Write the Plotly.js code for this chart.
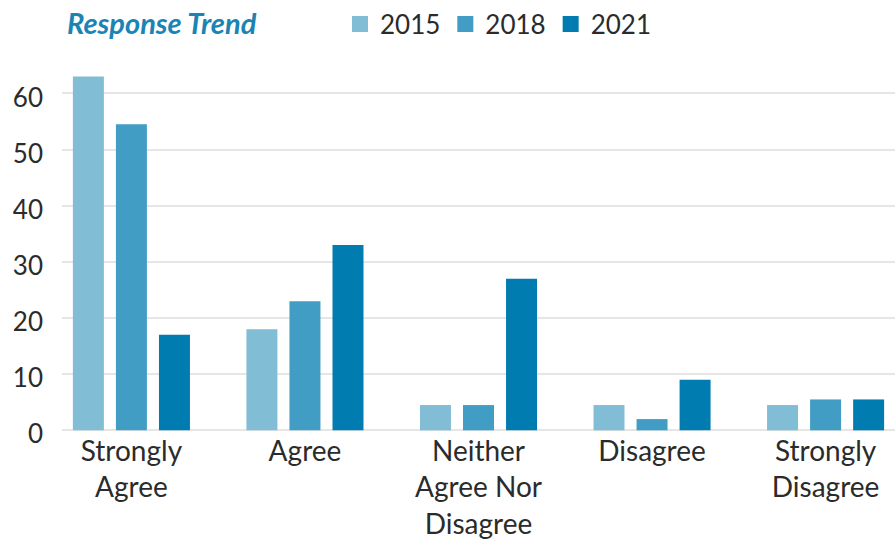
<!DOCTYPE html>
<html>
<head>
<meta charset="utf-8">
<script src="https://cdn.plot.ly/plotly-3.0.1.min.js"></script>
<style>html,body{margin:0;padding:0;background:#fff;}#chart{width:895px;height:539px;}</style>
</head>
<body>
<div id="chart"></div>
<script>
const categories = ["Strongly<br>Agree", "Agree", "Neither<br>Agree Nor<br>Disagree", "Disagree", "Strongly<br>Disagree"];
const seriesNames = ["2015", "2018", "2021"];
const values2015 = [63, 18, 4.5, 4.5, 4.5];
const values2018 = [54.5, 23, 4.5, 2, 5.5];
const values2021 = [17, 33, 27, 9, 5.5];
const colors = ["#82bdd6", "#419dc4", "#007cb0"];
const yTicks = [0, 10, 20, 30, 40, 50, 60];

const FONT = "Lato, 'Open Sans', sans-serif";
const allValues = [values2015, values2018, values2021];
const bars = seriesNames.map((name, i) => ({
  type: "bar",
  name: name,
  legendgroup: name,
  showlegend: false,
  x: categories,
  y: allValues[i],
  marker: {color: colors[i]},
  hoverinfo: "x+y+name"
}));
// legend entries with larger square swatches
const legendEntries = seriesNames.map((name, i) => ({
  type: "scatter",
  mode: "markers",
  name: name,
  legendgroup: name,
  showlegend: true,
  x: [null],
  y: [null],
  marker: {symbol: "square", size: 16, color: colors[i]},
  hoverinfo: "skip"
}));

const layout = {
  width: 895,
  height: 539,
  margin: {l: 62, r: 0, t: 70.5, b: 107.3, autoexpand: false},
  paper_bgcolor: "#ffffff",
  plot_bgcolor: "#ffffff",
  font: {family: FONT, color: "#2b2b2b"},
  title: {
    text: "<b><i>Response Trend</i></b>",
    font: {family: FONT, size: 29, color: "#1a84b5"},
    x: 67 / 895,
    xanchor: "left",
    xref: "container",
    y: 1 - 24 / 539,
    yanchor: "middle",
    yref: "container",
    automargin: false
  },
  showlegend: true,
  legend: {
    orientation: "h",
    x: 340 / 895,
    xref: "container",
    xanchor: "left",
    y: 1 - 24 / 539,
    yref: "container",
    yanchor: "middle",
    font: {family: FONT, size: 26, color: "#2b2b2b"},
    itemclick: false,
    traceorder: "normal",
    itemsizing: "trace"
  },
  barmode: "group",
  bargap: 0.256,
  bargroupgap: 0.28,
  xaxis: {
    type: "category",
    range: [-0.4, 4.4],
    showgrid: false,
    zeroline: false,
    showline: false,
    ticks: "",
    tickfont: {family: FONT, size: 28, color: "#2b2b2b"},
    automargin: false,
    fixedrange: true
  },
  yaxis: {
    range: [-0.3, 64],
    tickvals: yTicks,
    ticktext: yTicks.map(String),
    showgrid: true,
    gridcolor: "#e6e6e6",
    gridwidth: 2,
    zeroline: false,
    showline: false,
    ticks: "",
    tickfont: {family: FONT, size: 26, color: "#2b2b2b"},
    ticklabelstandoff: 18,
    ticklabelshift: 4,
    automargin: false,
    fixedrange: true
  }
};

Plotly.newPlot("chart", bars.concat(legendEntries), layout, {displayModeBar: false, staticPlot: true});
</script>
</body>
</html>
